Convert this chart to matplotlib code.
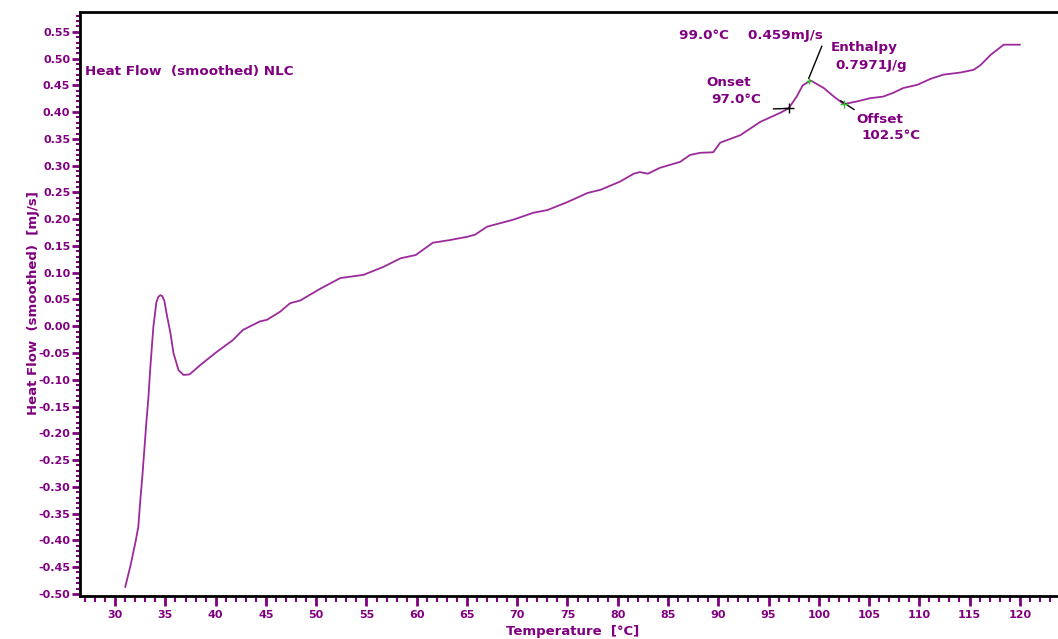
import numpy as np
import matplotlib.pyplot as plt
from matplotlib.ticker import MultipleLocator, FormatStrFormatter

# Temperatura (°C) y flujo de calor suavizado (mJ/s)
temp = [31.0, 31.5, 32.0, 32.3, 32.5, 32.7, 32.9, 33.1, 33.3, 33.5, 33.8, 34.1,
        34.3, 34.5, 34.7, 34.9, 35.1, 35.5, 35.8, 36.3, 36.8, 37.4, 38.5, 40.1,
        41.7, 42.7, 44.4, 45.1, 46.4, 47.4, 48.4, 50.4, 52.4, 54.7, 56.7, 58.4,
        59.9, 61.6, 63.3, 65.0, 65.8, 67.0, 69.6, 71.6, 73.0, 75.0, 77.0, 78.3,
        80.2, 81.6, 82.2, 83.0, 84.2, 86.2, 87.2, 88.2, 89.5, 90.2, 92.2, 94.2,
        96.2, 97.0, 97.8, 98.4, 99.2, 100.5, 101.5, 102.5, 103.8, 105.1, 106.4,
        107.4, 108.4, 109.8, 111.1, 112.4, 114.1, 115.4, 116.1, 117.1, 118.4, 120.0]
heat_flow = [-0.487, -0.449, -0.405, -0.375, -0.325, -0.281, -0.231, -0.180,
             -0.135, -0.076, -0.001, 0.045, 0.055, 0.058, 0.056, 0.047, 0.025,
             -0.013, -0.050, -0.082, -0.091, -0.090, -0.072, -0.048, -0.026,
             -0.007, 0.009, 0.012, 0.027, 0.043, 0.048, 0.070, 0.090, 0.096, 0.111,
             0.127, 0.133, 0.156, 0.161, 0.167, 0.171, 0.186, 0.199, 0.212, 0.217,
             0.232, 0.249, 0.255, 0.270, 0.285, 0.288, 0.285, 0.296, 0.307, 0.320,
             0.324, 0.325, 0.343, 0.357, 0.382, 0.399, 0.407, 0.429, 0.450, 0.459,
             0.445, 0.429, 0.415, 0.420, 0.426, 0.429, 0.436, 0.445, 0.451, 0.462,
             0.470, 0.474, 0.479, 0.488, 0.507, 0.526, 0.526]

onset_t, onset_v = 97.0, 0.407
peak_t, peak_v = 99.0, 0.459
offset_t, offset_v = 102.5, 0.415

purple = '#800080'
line_col = '#9b2a9b'

fig = plt.figure(figsize=(10.58, 6.39), dpi=100)
ax = fig.add_axes([80 / 1058, 43 / 639, 978 / 1058, 584.5 / 639])

ax.plot(temp, heat_flow, color=line_col, lw=1.3)

ax.set_xlim(26.5, 123.8)
ax.set_ylim(-0.504, 0.588)

ax.xaxis.set_major_locator(MultipleLocator(5))
ax.xaxis.set_minor_locator(MultipleLocator(1))
ax.yaxis.set_major_locator(MultipleLocator(0.05))
ax.yaxis.set_minor_locator(MultipleLocator(0.01))
ax.yaxis.set_major_formatter(FormatStrFormatter('%.2f'))

for lbl in ax.get_xticklabels() + ax.get_yticklabels():
    lbl.set_fontweight('bold')
ax.tick_params(axis='both', which='major', colors=purple, labelcolor=purple,
               labelsize=8, width=2)
ax.tick_params(axis='both', which='minor', colors=purple, width=1.5)
ax.tick_params(axis='x', which='major', length=7, pad=3)
ax.tick_params(axis='x', which='minor', length=4)
ax.tick_params(axis='y', which='major', length=6, pad=1)
ax.tick_params(axis='y', which='minor', length=3)

ax.spines['right'].set_visible(False)
for s in ['left', 'bottom', 'top']:
    ax.spines[s].set_color('black')
    ax.spines[s].set_linewidth(2)

ax.set_xlabel('Temperature  [°C]', color=purple, fontsize=9.5,
              fontweight='bold', labelpad=0)
ax.xaxis.set_label_coords((573 - 80) / 978, -29 / 584.5)
ax.set_ylabel('Heat Flow  (smoothed)  [mJ/s]', color=purple, fontsize=9.5,
              fontweight='bold')
ax.yaxis.set_label_coords(-40 / 978, (596 - 303) / 584.5)

txt = dict(color=purple, fontsize=9.7, fontweight='bold')
ax.text(27.0, 0.475, 'Heat Flow  (smoothed) NLC', va='center', **txt)
ax.text(86.1, 0.5425, '99.0°C    0.459mJ/s', va='center', **txt)
ax.text(101.2, 0.520, 'Enthalpy', va='center', **txt)
ax.text(101.7, 0.488, '0.7971J/g', va='center', **txt)
ax.text(88.8, 0.455, 'Onset', va='center', **txt)
ax.text(89.3, 0.423, '97.0°C', va='center', **txt)
ax.text(103.7, 0.387, 'Offset', va='center', **txt)
ax.text(104.2, 0.356, '102.5°C', va='center', **txt)

# marcadores del analisis
ax.plot([onset_t - 1.5, onset_t], [onset_v - 0.001, onset_v], color='black', lw=1)
ax.plot(onset_t, onset_v, marker='+', color='black', ms=7, mew=1)
ax.plot([peak_t + 1.3, peak_t], [0.523, peak_v + 0.004], color='black', lw=1)
ax.plot(peak_t, peak_v, marker='+', color='#30c030', ms=5, mew=1)
ax.plot([offset_t - 0.3, offset_t + 1.0], [offset_v + 0.006, offset_v - 0.010],
        color='black', lw=1)
ax.plot(offset_t, offset_v, marker='+', color='#30c030', ms=6, mew=1)

plt.savefig('out.png', dpi=100)
